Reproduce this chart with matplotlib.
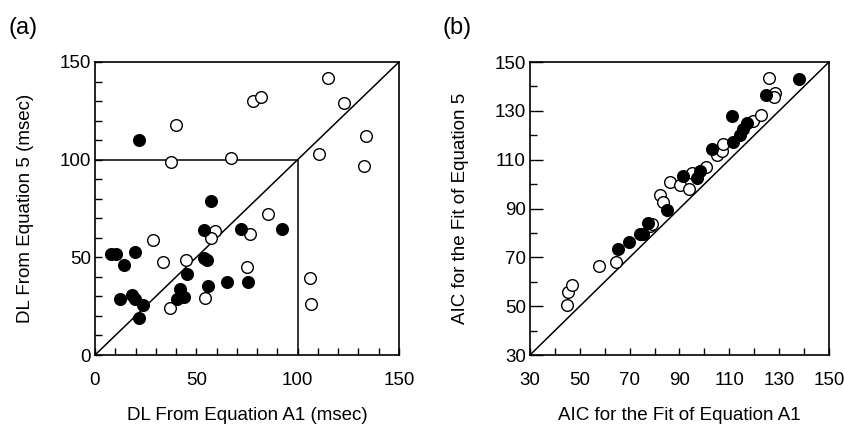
import matplotlib
matplotlib.use("Agg")
import matplotlib.pyplot as plt
from matplotlib.ticker import MultipleLocator

plt.rcParams['font.family'] = ['Liberation Sans', 'DejaVu Sans']

# Panel (a): DL values (msec)
a_filled_x = [21.8, 57, 54, 71.8, 92.4, 7.8, 10.2, 19.6, 14.5, 54, 55.3, 45.4, 75.6,
              64.9, 55.6, 42.1, 43.7, 40.4, 12.4, 18.1, 19.8, 23.9, 21.6]
a_filled_y = [110, 79, 64, 64.4, 64.4, 51.6, 51.6, 52.5, 45.9, 49.6, 48.7, 41.3, 37.3,
              37.6, 35.4, 33.7, 29.5, 28.5, 28.9, 30.8, 28.9, 25.6, 19.1]
a_open_x = [40.1, 37.6, 67.2, 77.9, 81.7, 115.2, 123, 133.7, 110.6, 132.5, 85.5, 76.7,
            75.1, 106.1, 106.6, 59, 57.3, 28.5, 33.5, 44.8, 54.5, 37.1]
a_open_y = [118, 99, 101, 130, 132, 142, 129, 112, 103, 96.6, 72.3, 62,
            44.8, 39.3, 26.3, 63.7, 59.8, 59, 47.5, 48.7, 29, 23.9]

# Panel (b): AIC values
b_open_x = [45, 45.4, 46.7, 57.8, 64.4, 78.2, 79.1, 82.2, 83.5, 86.2, 90.2, 93.9, 94.9,
            100.7, 104.9, 106.9, 107.6, 119.4, 122.8, 126.1, 128.4, 128]
b_open_y = [50.5, 56, 58.5, 66.5, 68.2, 82.9, 83.7, 95.6, 92.8, 101, 99.7, 97.9, 104.4,
            107.2, 112, 113.6, 116.4, 125.9, 128.4, 143.6, 137.2, 135.6]
b_filled_x = [65.5, 69.8, 74.2, 75.5, 77.5, 84.8, 91.5, 96.9, 98.2, 103.2, 111.2, 111.6,
              114.3, 115.4, 117, 124.8, 138]
b_filled_y = [73.3, 76.2, 79.5, 79.5, 84, 89.4, 103.5, 102.4, 105.5, 114.3, 127.7, 117.2,
              120.2, 122.6, 125, 136.3, 143]

fig = plt.figure(figsize=(8.45, 4.34), dpi=100)
axA = fig.add_axes([95/845, 1-355/434, 304/845, 293/434])
axB = fig.add_axes([530/845, 1-355/434, 299/845, 293/434])

ms = 8.4
tick_fs = 13.5
lab_fs = 13.5
for ax in (axA, axB):
    for s in ax.spines.values():
        s.set_linewidth(1.2)
    ax.tick_params(direction='in', width=1.0, labelsize=tick_fs)

# Panel A
axA.plot([0, 150], [0, 150], color='black', lw=1.1, zorder=1)
axA.plot([0, 100], [100, 100], color='black', lw=1.1, zorder=1)
axA.plot([100, 100], [0, 100], color='black', lw=1.1, zorder=1)
axA.plot(a_open_x, a_open_y, 'o', ms=ms, mfc='white', mec='black', mew=1.0, zorder=3)
axA.plot(a_filled_x, a_filled_y, 'o', ms=ms, mfc='black', mec='black', mew=1.0, zorder=3)
axA.set_xlim(0, 150)
axA.set_ylim(0, 150)
axA.xaxis.set_major_locator(MultipleLocator(50))
axA.xaxis.set_minor_locator(MultipleLocator(10))
axA.yaxis.set_major_locator(MultipleLocator(50))
axA.yaxis.set_minor_locator(MultipleLocator(10))
axA.tick_params(which='both', direction='in', length=5, width=1.0)
axA.tick_params(axis='x', pad=12)
axA.tick_params(axis='y', pad=3)
axA.set_xlabel('DL From Equation A1 (msec)', fontsize=lab_fs, labelpad=13)
axA.set_ylabel('DL From Equation 5 (msec)', fontsize=lab_fs, labelpad=18)

# Panel B
axB.plot([30, 150], [30, 150], color='black', lw=1.1, zorder=1)
axB.plot(b_open_x, b_open_y, 'o', ms=ms, mfc='white', mec='black', mew=1.0, zorder=3)
axB.plot(b_filled_x, b_filled_y, 'o', ms=ms, mfc='black', mec='black', mew=1.0, zorder=3)
axB.set_xlim(30, 150)
axB.set_ylim(30, 150)
axB.set_xticks([30, 50, 70, 90, 110, 130, 150])
axB.set_xticks([40, 60, 80, 100, 120, 140], minor=True)
axB.set_yticks([30, 50, 70, 90, 110, 130, 150])
axB.set_yticks([40, 60, 80, 100, 120, 140], minor=True)
axB.tick_params(axis='x', which='both', direction='in', length=5, width=1.0, pad=12)
axB.tick_params(axis='y', which='major', direction='in', length=9, width=1.0, pad=3)
axB.tick_params(axis='y', which='minor', direction='in', length=5, width=1.0)
axB.set_xlabel('AIC for the Fit of Equation A1', fontsize=lab_fs, labelpad=13)
axB.set_ylabel('AIC for the Fit of Equation 5', fontsize=lab_fs, labelpad=18)

fig.text(8/845, 1-28/434, '(a)', fontsize=17, va='center', ha='left')
fig.text(443/845, 1-28/434, '(b)', fontsize=17, va='center', ha='left')

fig.savefig('out.png', dpi=100)
